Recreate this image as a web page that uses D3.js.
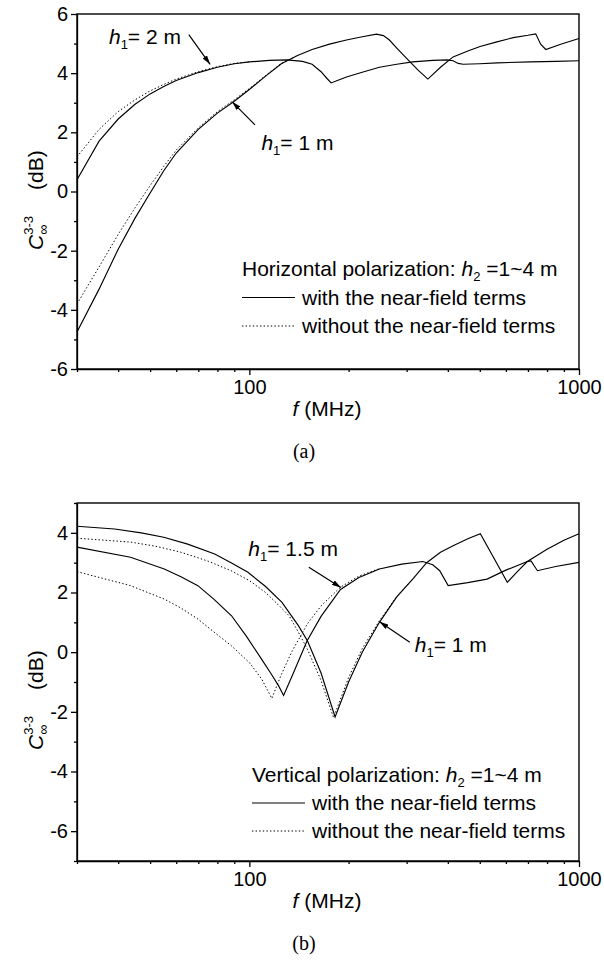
<!DOCTYPE html>
<head>
<meta charset="utf-8">
<title>C 3-3 versus frequency</title>
<script src="https://cdn.jsdelivr.net/npm/d3@7"></script>
<style>
body { margin: 0; background: #fff; }
.axis text { font: 20px "Liberation Sans", Arial, sans-serif; fill: #000; }
.axis path, .axis line { fill: none; stroke: #000; stroke-width: 1.3; }
.curve { fill: none; stroke: #000; stroke-width: 1.15; }
.dotted { stroke-width: 1; stroke-dasharray: 1.4,2.2; }
.lbl { font: 21px "Liberation Sans", Arial, sans-serif; fill: #000; }
.tag { font: 20px "Liberation Serif", "Times New Roman", serif; fill: #000; }
</style>
</head>
<body>
<script>
// frequency axis (MHz, log)
var freqDomain = [30, 1000];
var freqMajor = [100, 1000];
var freqMinor = [30, 40, 50, 60, 70, 80, 90, 200, 300, 400, 500, 600, 700, 800, 900];

// (a) horizontal polarization, values in dB
var horizDomain = [-6, 6];
var horizMajor = [-6, -4, -2, 0, 2, 4, 6];
var horizMinor = [-5, -3, -1, 1, 3, 5];

var horiz1mWith = [[30,-4.75],[35,-3.3],[40,-1.95],[45,-0.9],[50,-0.05],[55,0.7],[60,1.3],[70,2.1],[80,2.65],[90,3.05],
  [100,3.45],[112,3.9],[125,4.32],[140,4.6],[155,4.8],[175,4.98],[197,5.12],[220,5.23],[243,5.32],[255,5.27],
  [266,5.12],[280,4.85],[300,4.5],[325,4.1],[348,3.8],[380,4.2],[415,4.55],[460,4.75],[501,4.9],[560,5.05],
  [632,5.2],[700,5.28],[739,5.33],[765,4.98],[793,4.8],[880,4.98],[1000,5.17]];
var horiz1mWithout = [[30,-3.8],[35,-2.55],[40,-1.45],[45,-0.55],[50,0.2],[55,0.85],[60,1.4],[70,2.15],[80,2.7],
  [90,3.1],[100,3.48],[112,3.92],[125,4.33],[140,4.6]];
var horiz2mWith = [[30,0.4],[35,1.7],[40,2.45],[45,2.95],[50,3.3],[55,3.55],[60,3.75],[70,4.02],[80,4.2],[90,4.32],
  [100,4.38],[115,4.43],[130,4.45],[145,4.4],[155,4.3],[165,4.05],[172,3.82],[177,3.67],[185,3.75],[197,3.87],
  [220,4.03],[248,4.2],[280,4.3],[313,4.38],[360,4.43],[398,4.45],[415,4.42],[430,4.33],[445,4.3],[500,4.32],
  [565,4.35],[713,4.38],[850,4.4],[1000,4.42]];
var horiz2mWithout = [[30,1.17],[35,2.1],[40,2.7],[45,3.1],[50,3.4],[55,3.62],[60,3.8],[70,4.05],[80,4.22],
  [90,4.33],[100,4.38]];

// (b) vertical polarization, values in dB
var vertDomain = [-7, 5];
var vertMajor = [-6, -4, -2, 0, 2, 4];
var vertMinor = [-7, -5, -3, -1, 1, 3, 5];

var vert1mWith = [[30,4.22],[39,4.13],[47,4.0],[55,3.85],[65,3.62],[78.5,3.29],[88,3.0],[99,2.68],[112,2.2],
  [125.6,1.67],[141,0.88],[150,0.38],[165,-0.7],[182,-2.17],[200,-1.0],[220,0.0],[248,1.0],[280,1.85],[313,2.45],
  [345,3.0],[380,3.35],[415,3.57],[460,3.8],[502,3.97],[550,3.18],[606,2.34],[650,2.7],[697,3.04],[800,3.45],
  [900,3.75],[1000,3.97]];
var vert1mWithout = [[30,3.82],[43.6,3.69],[52,3.55],[62,3.35],[75,3.05],[88,2.73],[100,2.4],[112,2.0],[122,1.6],
  [132,1.22],[141,0.66],[150,0.1],[165,-0.95],[180,-2.19],[200,-0.85],[220,0.12],[248,1.05],[280,1.87],[313,2.45]];
var vert15mWith = [[30,3.52],[43.6,3.18],[55.2,2.79],[62,2.53],[69.8,2.23],[78,1.78],[88.3,1.22],[98,0.53],
  [109,-0.24],[116,-0.7],[122.7,-1.13],[127,-1.45],[135,-0.78],[149.7,0.38],[165,1.2],[189,2.1],[215,2.5],
  [248,2.79],[290,2.95],[336,3.04],[360,2.93],[378,2.73],[401,2.23],[460,2.33],[526,2.45],[600,2.75],[697,3.04],
  [715,3.06],[748,2.73],[850,2.87],[1000,3.01]];
var vert15mWithout = [[30,2.7],[43.6,2.23],[55.2,1.78],[62,1.48],[69.8,1.11],[78,0.68],[88.3,0.21],[100,-0.35],
  [109,-0.9],[117,-1.55],[125,-0.75],[135,0.05],[150,0.95],[165,1.55],[189,2.18],[215,2.55],[248,2.8]];

var svg = d3.select("body").append("svg")
	.attr("width", 604)
	.attr("height", 969);

svg.append("defs").append("marker")
	.attr("id", "arrow")
	.attr("viewBox", "0 0 10 6")
	.attr("refX", 10).attr("refY", 3)
	.attr("markerWidth", 9).attr("markerHeight", 5.4)
	.attr("markerUnits", "userSpaceOnUse")
	.attr("orient", "auto")
	.append("path").attr("d", "M0,0L10,3L0,6Z").attr("fill", "#000");

// plain hyphen for negatives, like the scan
function plainNum(d) { return String(d); }

// text with italic / sub / super parts
function richText(sel, parts) {
	parts.forEach(function(p) {
		var t = sel.append("tspan").text(p.t);
		if (p.it) t.style("font-style", "italic");
		if (p.size) t.style("font-size", p.size + "px");
		if (p.dx) t.attr("dx", p.dx);
		if (p.dy) t.attr("dy", p.dy);
	});
	return sel;
}

function drawPanel(p) {
	var x = d3.scaleLog().domain(freqDomain).range([77, 579]);
	var y = d3.scaleLinear().domain(p.yDomain).range([p.bottom, p.top]);
	var g = svg.append("g");

	var line = d3.line()
		.x(function(d) { return x(d[0]) })
		.y(function(d) { return y(d[1]) });

	g.append("rect")
		.attr("x", 77).attr("y", p.top)
		.attr("width", 502).attr("height", p.bottom - p.top)
		.attr("fill", "none").attr("stroke", "#000").attr("stroke-width", 1.4);

	p.series.forEach(function(s) {
		g.append("path").datum(s.data)
			.attr("class", s.dotted ? "curve dotted" : "curve")
			.attr("d", line);
	});

	// axes: majors with labels, minors short
	g.append("g").attr("class", "axis")
		.attr("transform", "translate(0," + p.bottom + ")")
		.call(d3.axisBottom(x).tickValues(freqMajor).tickFormat(plainNum)
			.tickSize(6).tickSizeOuter(0).tickPadding(5));
	g.append("g").attr("class", "axis")
		.attr("transform", "translate(0," + p.bottom + ")")
		.call(d3.axisBottom(x).tickValues(freqMinor).tickFormat("").tickSize(3))
		.select(".domain").remove();
	g.append("g").attr("class", "axis")
		.attr("transform", "translate(77,0)")
		.call(d3.axisLeft(y).tickValues(p.yMajor).tickFormat(plainNum)
			.tickSize(6).tickSizeOuter(0).tickPadding(3));
	g.append("g").attr("class", "axis")
		.attr("transform", "translate(77,0)")
		.call(d3.axisLeft(y).tickValues(p.yMinor).tickFormat("").tickSize(3))
		.select(".domain").remove();

	// axis titles
	richText(g.append("text").attr("class", "lbl")
		.attr("x", 327).attr("y", p.bottom + 47).attr("text-anchor", "middle"),
		[{t: "f", it: true}, {t: " (MHz)"}]);

	richText(g.append("text").attr("class", "lbl")
		.attr("transform", "translate(43," + p.yTitleStart + ") rotate(-90)"),
		[{t: "C", it: true}, {t: "\u221e", size: 14, dy: 5},
		 {t: "3-3", size: 13, dx: -10, dy: -15}, {t: "(dB)", dx: 26, dy: 10}]);

	g.append("text").attr("class", "tag")
		.attr("x", 304).attr("y", p.bottom + 89).attr("text-anchor", "middle")
		.text(p.tag);

	// curve labels with arrows
	p.notes.forEach(function(n) {
		richText(g.append("text").attr("class", "lbl")
			.attr("x", x(n.at[0])).attr("y", y(n.at[1])),
			[{t: "h", it: true}, {t: "1", size: 13, dy: 5}, {t: n.text, dy: -5}]);
		g.append("line")
			.attr("x1", x(n.from[0])).attr("y1", y(n.from[1]))
			.attr("x2", x(n.to[0])).attr("y2", y(n.to[1]))
			.attr("stroke", "#000").attr("stroke-width", 1.2)
			.attr("marker-end", "url(#arrow)");
	});

	// legend
	var L = p.legend;
	richText(g.append("text").attr("class", "lbl")
		.attr("x", L.x).attr("y", L.y + 7),
		[{t: L.title}, {t: "h", it: true}, {t: "2", size: 13, dy: 5}, {t: " =1~4 m", dy: -5}]);
	["with the near-field terms", "without the near-field terms"].forEach(function(txt, i) {
		var ry = L.y + (i + 1) * L.gap;
		g.append("line")
			.attr("x1", L.x).attr("x2", L.x + 53)
			.attr("y1", ry).attr("y2", ry)
			.attr("class", i ? "curve dotted" : "curve");
		g.append("text").attr("class", "lbl")
			.attr("x", L.x + 60).attr("y", ry + 7)
			.text(txt);
	});
}

drawPanel({
	top: 14, bottom: 369, yDomain: horizDomain, yMajor: horizMajor, yMinor: horizMinor,
	yTitleStart: 250, tag: "(a)",
	series: [
		{data: horiz2mWithout, dotted: true},
		{data: horiz1mWithout, dotted: true},
		{data: horiz2mWith},
		{data: horiz1mWith}
	],
	notes: [
		{text: "= 2 m", at: [37.5, 5.0], from: [65.5, 5.3], to: [76, 4.3]},
		{text: "= 1 m", at: [108.8, 1.41], from: [104, 2.25], to: [88.7, 3.03]}
	],
	legend: {x: 242, y: 269, gap: 28.5, title: "Horizontal polarization: "}
});

drawPanel({
	top: 503, bottom: 861, yDomain: vertDomain, yMajor: vertMajor, yMinor: vertMinor,
	yTitleStart: 750, tag: "(b)",
	series: [
		{data: vert1mWithout, dotted: true},
		{data: vert15mWithout, dotted: true},
		{data: vert1mWith},
		{data: vert15mWith}
	],
	notes: [
		{text: "= 1.5 m", at: [99.3, 3.23], from: [151.5, 2.85], to: [189.5, 2.17]},
		{text: "= 1 m", at: [317.6, -0.01], from: [306.6, 0.33], to: [248.3, 1.02]}
	],
	legend: {x: 252, y: 775, gap: 28, title: "Vertical polarization: "}
});
</script>
</body>
